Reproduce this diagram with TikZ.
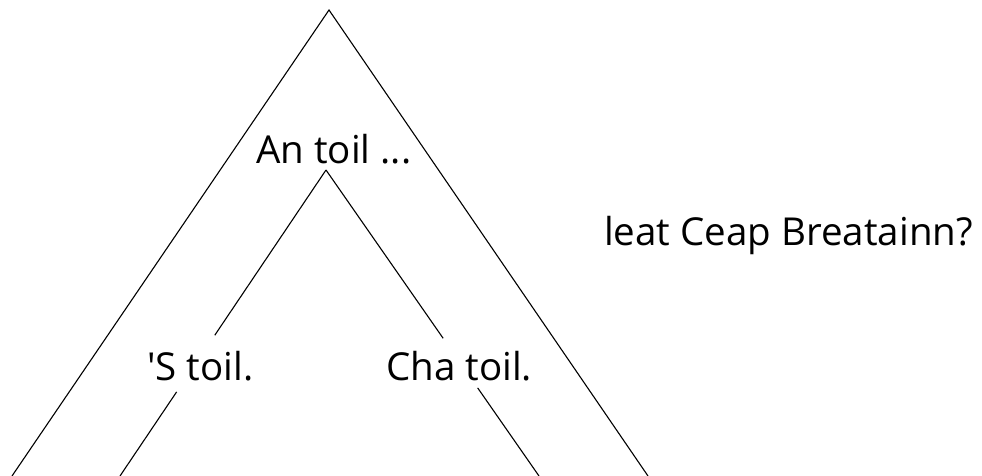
\documentclass[tikz,border=0pt]{standalone}
\usepackage{fontspec}
\setmainfont{Open Sans}[Ligatures=TeXOff]
\usetikzlibrary{calc}
\begin{document}
\begin{tikzpicture}[x=1pt,y=-1pt,
  branch/.style={line width=1.1pt,black},
  lbl/.style={anchor=base west,inner sep=0pt,font=\fontsize{38.5}{46}\selectfont}]
  \useasboundingbox (0,0) rectangle (982,476);
  % outer wedge
  \coordinate (top) at (329,10);
  \coordinate (obl) at (12,476);
  \coordinate (obr) at (648,476);
  % inner wedge
  \coordinate (ia)  at (326,170);
  \coordinate (ibl) at (120,476);
  \coordinate (ibr) at (539,476);
  % labels
  \node[lbl] (an)  at (256,163) {An toil ...};
  \node[lbl] (s)   at (147,380) {'S toil.};
  \node[lbl] (cha) at (386,380) {Cha toil.};
  \node[lbl] (q)   at (604,245) {leat Ceap Breatainn?};
  % branches
  \draw[branch] (obl) -- (top) -- (obr);
  \draw[branch] (ia) -- ($(ia)!0.54!(ibl)$);
  \draw[branch] ($(ia)!0.725!(ibl)$) -- (ibl);
  \draw[branch] (ia) -- ($(ia)!0.55!(ibr)$);
  \draw[branch] ($(ia)!0.712!(ibr)$) -- (ibr);
\end{tikzpicture}
\end{document}
